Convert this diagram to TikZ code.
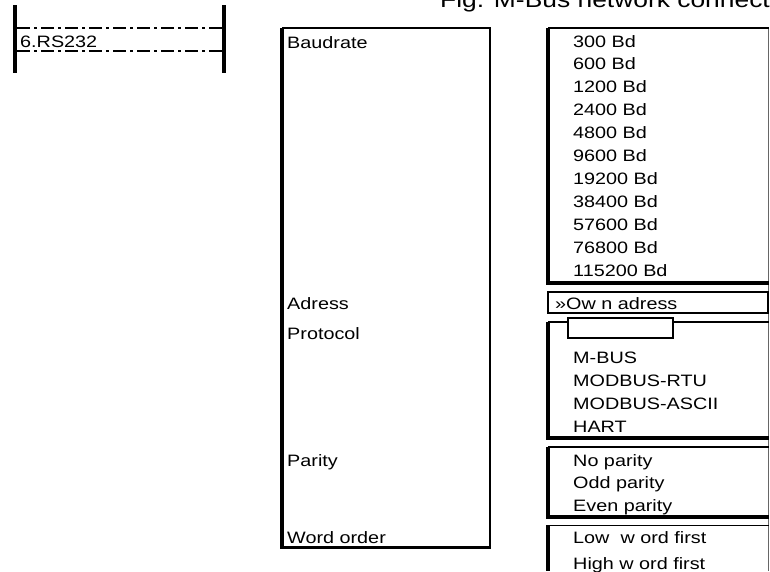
\documentclass[tikz,border=0pt]{standalone}
\usepackage{fontspec,tikz}
\setmainfont{Liberation Sans}[FakeStretch=1.2]

\tikzset{
  entry/.style={anchor=base west,inner sep=0pt,font=\fontsize{16.5}{19.8}\selectfont},
  heavy/.style={line width=3.5pt},
  light/.style={line width=1.8pt},
  hair/.style={line width=0.8pt,black!60},
  dashdot/.style={line width=1.4pt,dash pattern=on 13pt off 4pt on 3pt off 4pt}
}

\begin{document}
\begin{tikzpicture}[x=1pt,y=-1pt]
\path[use as bounding box] (0,0) rectangle (770.0,571.0);
\node[anchor=base west,inner sep=0pt,font=\fontsize{22.0}{26.4}\selectfont] (figtitle) at (440,7.5) {Fig. M-Bus network connect};
% menu position
\draw[heavy] (15,5) -- (15,73);
\draw[heavy] (224,5) -- (224,73);
\draw[dashdot] (17,28) -- (222,28);
\draw[dashdot] (17,51) -- (222,51);
\node[entry] (rs232) at (20,47) {6.RS232};
% parameter column
\draw[light] (282,28) -- (490,28) -- (490,547);
\draw[heavy] (282,28) -- (282,548.5);
\draw[line width=3pt] (282,547) -- (491,547);
\node[entry] (lbaud) at (287,48) {Baudrate};
\node[entry] (ladr) at (287,309) {Adress};
\node[entry] (lprot) at (287,339) {Protocol};
\node[entry] (lpar) at (287,466) {Parity};
\node[entry] (lword) at (287,543) {Word order};
% value column
\draw[hair] (768,28) -- (768,571);
\draw[light] (548,28) -- (769,28);
\draw[heavy] (548,28) -- (548,285);
\draw[heavy] (548,283) -- (769,283);
\foreach \bd [count=\i from 0] in {300,600,1200,2400,4800,9600,19200,38400,57600,76800,115200}
  \node[entry] (baud\i) at (573,47+22.9*\i) {\bd\ Bd};
\draw[light] (548,292) rectangle (768,313);
\node[entry] (vadr) at (555,309) {»Ow n adress};
\draw[light] (548,322) -- (769,322);
\draw[heavy] (548,322) -- (548,440);
\draw[heavy] (548,438) -- (769,438);
\draw[line width=1.5pt,fill=white] (568,318) rectangle (673,338);
\node[entry] (mbus) at (573,363) {M-BUS};
\node[entry] (rtu) at (573,386) {MODBUS-RTU};
\node[entry] (ascii) at (573,409) {MODBUS-ASCII};
\node[entry] (hart) at (573,432) {HART};
\draw[light] (548,447) -- (769,447);
\draw[heavy] (548,447) -- (548,519);
\draw[heavy] (548,517) -- (769,517);
\node[entry] (nopar) at (573,466) {No parity};
\node[entry] (oddpar) at (573,488) {Odd parity};
\node[entry] (evenpar) at (573,511) {Even parity};
\draw[line width=1pt] (548,525) -- (769,525);
\draw[heavy] (548,525) -- (548,571);
\node[entry] (lowfirst) at (573,543) {Low\ \ w ord first};
\node[entry] (highfirst) at (573,569) {High w ord first};
\end{tikzpicture}
\end{document}
